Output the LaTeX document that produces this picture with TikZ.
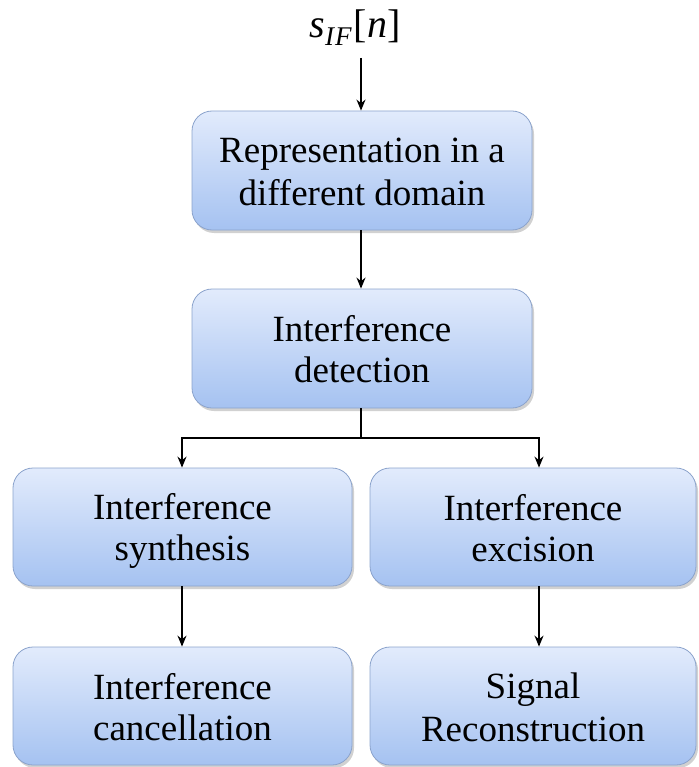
\documentclass[tikz,border=0pt]{standalone}
\usepackage{fontspec}
\setmainfont{Liberation Serif}
\usetikzlibrary{arrows.meta,shadows}
\definecolor{boxtop}{HTML}{E2EBFC}
\definecolor{boxbot}{HTML}{A5C2F1}
\definecolor{boxline}{HTML}{8BA3CC}
\newcommand{\bxline}[1]{\rule[-7pt]{0pt}{41pt}#1}
\tikzset{
  blk/.style={draw=boxline, line width=0.8pt, rounded corners=20pt,
    top color=boxtop, bottom color=boxbot, align=center,
    font=\fontsize{37}{41}\selectfont, inner sep=0pt,
    drop shadow={shadow xshift=2pt, shadow yshift=-3pt, opacity=0.3, fill=black!60}},
  conn/.style={line width=1.6pt, -{Stealth[length=11pt,width=9pt]}},
}
\begin{document}
\begin{tikzpicture}[x=1pt,y=-1pt]
\useasboundingbox (0,0) rectangle (698,767);
\node[inner sep=0pt] (in) at (355,28) {\fontsize{40}{44}\selectfont\itshape s\raisebox{-8pt}{\fontsize{27}{27}\selectfont I\kern1pt F}\kern2pt\upshape[\itshape n\upshape]};
\node[blk, minimum width=340pt, minimum height=119pt] (rep) at (362,170.5) {\bxline{Representation in a}\\\bxline{different domain}};
\node[blk, minimum width=340pt, minimum height=119pt] (det) at (362,348.5) {\bxline{Interference}\\\bxline{detection}};
\node[blk, minimum width=339pt, minimum height=118pt] (syn) at (182.5,527) {\bxline{Interference}\\\bxline{synthesis}};
\node[blk, minimum width=326pt, minimum height=118pt] (exc) at (533,527) {\bxline{Interference}\\\bxline{excision}};
\node[blk, minimum width=339pt, minimum height=118pt] (can) at (182.5,706) {\bxline{Interference}\\\bxline{cancellation}};
\node[blk, minimum width=326pt, minimum height=118pt] (rec) at (533,706) {\bxline{Signal}\\\bxline{Reconstruction}};
\coordinate (br) at (361,438);
\draw[conn] (361,58) -- (rep.north -| 361,0);
\draw[conn] (rep.south -| 361,0) -- (det.north -| 361,0);
\draw[line width=1.6pt] (det.south -| 361,0) -- (br);
\draw[conn] (br) -| (syn.north -| 182,0);
\draw[conn] (br) -| (exc.north -| 539,0);
\draw[conn] (syn.south -| 182,0) -- (can.north -| 182,0);
\draw[conn] (exc.south -| 539,0) -- (rec.north -| 539,0);
\end{tikzpicture}
\end{document}
